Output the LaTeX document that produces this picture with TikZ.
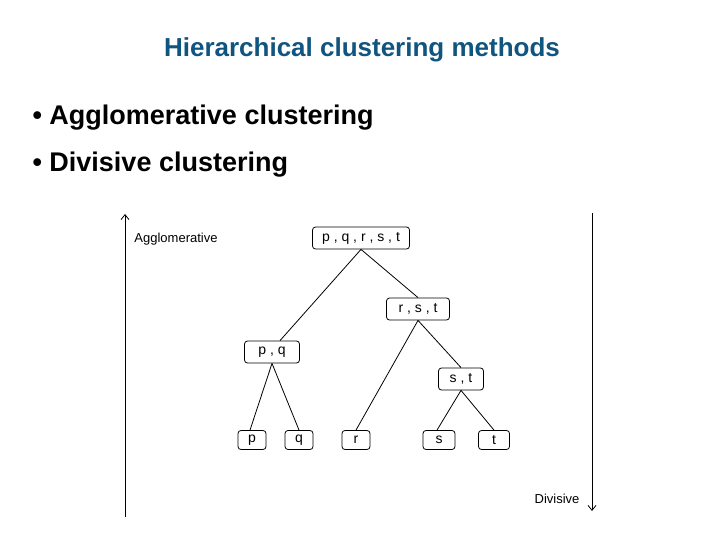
\documentclass[tikz,border=0pt]{standalone}
\usepackage{fontspec}
\usetikzlibrary{arrows.meta}
\setmainfont{Liberation Sans}
\definecolor{titleblue}{RGB}{16,84,128}
\begin{document}
\begin{tikzpicture}[x=1pt,y=-1pt,
  cl/.style={draw,rounded corners=3pt,line width=0.8pt,inner sep=0pt,minimum height=22pt,font=\fontsize{14}{16}\selectfont},
  ln/.style={line width=0.8pt},
  ax/.style={line width=0.8pt,-{Straight Barb[length=5pt,width=8pt]}}]
\useasboundingbox (0,0) rectangle (720,540);
\node[text=titleblue,font=\fontsize{26}{30}\bfseries] (title) at (362,50) {Hierarchical clustering methods};
\node[anchor=west,font=\fontsize{27}{32}\bfseries] (b1) at (29,118) {• Agglomerative clustering};
\node[anchor=west,font=\fontsize{27}{32}\bfseries] (b2) at (29,165) {• Divisive clustering};
\node[cl,minimum width=97pt] (all) at (361,238) {p , q , r , s , t};
\node[cl,minimum width=63pt] (rst) at (418,309) {r , s , t};
\node[cl,minimum width=55pt] (pq) at (272,352) {p , q};
\node[cl,minimum width=45pt] (st) at (461,379) {s , t};
\node[cl,minimum width=28pt,minimum height=19pt] (p) at (252,440) {p};
\node[cl,minimum width=28pt,minimum height=19pt] (q) at (299,440) {q};
\node[cl,minimum width=28pt,minimum height=19pt] (r) at (356,440) {r};
\node[cl,minimum width=32pt,minimum height=19pt] (s) at (439,440) {s};
\node[cl,minimum width=31pt,minimum height=19pt] (t) at (494,440) {t};
\draw[ln] (all.south) -- ([xshift=8pt]pq.north);
\draw[ln] (all.south) -- (rst.north);
\draw[ln] (rst.south) -- (r.north);
\draw[ln] (rst.south) -- (st.north);
\draw[ln] (pq.south) -- ([xshift=-2pt]p.north);
\draw[ln] (pq.south) -- (q.north);
\draw[ln] (st.south) -- ([xshift=-2pt]s.north);
\draw[ln] (st.south) -- (t.north);
\coordinate (a1) at (125,517); \coordinate (a2) at (125,214);
\coordinate (d1) at (592,213); \coordinate (d2) at (592,511);
\draw[ax] (a1) -- (a2);
\draw[ax] (d1) -- (d2);
\node[font=\fontsize{13}{15}\selectfont] (agl) at (176,239) {Agglomerative};
\node[font=\fontsize{13}{15}\selectfont] (div) at (557,499) {Divisive};
\end{tikzpicture}
\end{document}
